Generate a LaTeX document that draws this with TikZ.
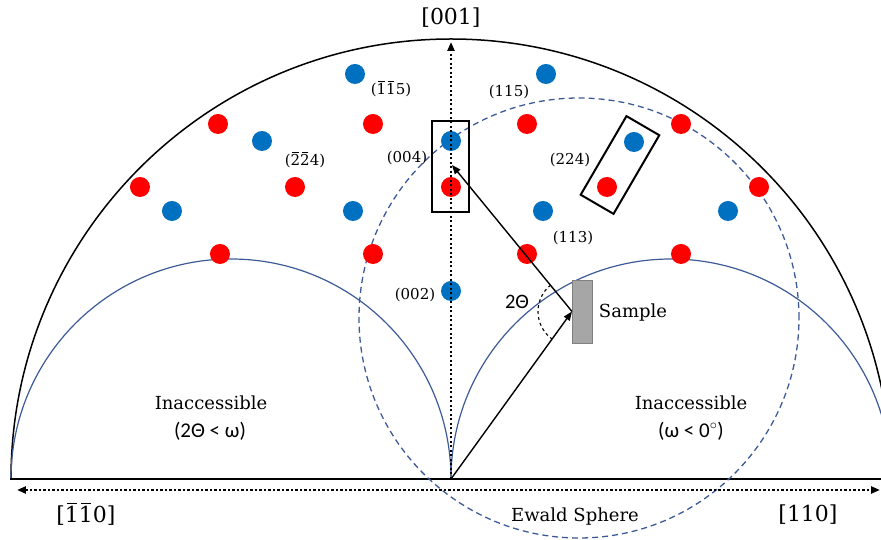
\documentclass[tikz,border=0pt]{standalone}
\usepackage{fontspec}
\setmainfont{DejaVu Serif}
\newfontfamily\calib{Carlito}
\usetikzlibrary{arrows.meta}

\definecolor{dotblue}{HTML}{0070C0}
\definecolor{dotred}{HTML}{FF0000}
\definecolor{arcblue}{HTML}{3D5A98}
\definecolor{samplegray}{HTML}{A6A6A6}

% digit with its own short bar on top
\newcommand{\nbar}[1]{\leavevmode\hbox{\ooalign{#1\cr\hfil\rule[0.84em]{0.44em}{0.055em}\hfil}}}

\tikzset{
  hkl/.style={font=\fontsize{15}{17}\selectfont, inner sep=0},
  axislabel/.style={font=\fontsize{22}{25}\selectfont, inner sep=0},
  region/.style={font=\fontsize{18}{21}\selectfont, inner sep=0},
  regioncond/.style={font=\calib\fontsize{21}{24}\selectfont, inner sep=0},
  dotline/.style={line width=2.2pt, dash pattern=on 2.2pt off 2.3pt},
  tip/.style={-{Triangle[length=9pt,width=7pt]}},
  selbox/.style={draw, line width=2pt, inner sep=0},
}

\begin{document}
\begin{tikzpicture}[x=1pt, y=1pt]
    \clip (-451,-61) rectangle (430,479);
    \coordinate (O) at (0,0);

    % half circle of reachable space and the two blind regions
    \draw[line width=1.5pt] (440,0) arc[start angle=0, end angle=180, radius=440];
    \draw[arcblue, line width=1.2pt] (0,0) arc[start angle=0, end angle=180, radius=220];
    \draw[arcblue, line width=1.2pt] (440,0) arc[start angle=0, end angle=180, radius=220];
    \draw[line width=1.5pt] (-441,0) -- (430,0);

    % Ewald sphere
    \draw[arcblue, line width=1.3pt, dash pattern=on 6pt off 4pt] (128,161) circle (220);

    % reciprocal lattice points
    \foreach \x/\y in {-96/405, 95/405, -189/338, 0/338, 183/337, -279/268,
                       -98/268, 92/268, 277/268, 0/188}
        \fill[dotblue] (\x,\y) circle (10);
    \foreach \x/\y in {-233/355, -78/355, 76/355, 230/355, -311/292, -156/292,
                       0/292, 156/292, 308/292, -231/225, -78/225, 76/225, 230/225}
        \fill[dotred] (\x,\y) circle (10);

    % crystal axes
    \coordinate (top) at (0,437);
    \coordinate (left) at (-434,-11);
    \coordinate (right) at (429,-11);
    \draw[dotline, tip] (O) -- (top);
    \draw[dotline, {Triangle[length=9pt,width=7pt]}-{Triangle[length=9pt,width=7pt]}] (left) -- (right);

    \node[axislabel] (n001) at (0,461) {[001]};
    \node[axislabel] (n110bar) at (-365,-37) {[\nbar{1}\nbar{1}0]};
    \node[axislabel] (n110) at (357,-36) {[110]};
    \node[region] (ewald) at (124,-38) {Ewald Sphere};

    % measured reflections
    \node[selbox, minimum width=37, minimum height=91] (box004) at (-0.5,312.5) {};
    \node[selbox, minimum width=91, minimum height=38, rotate=59.8] (box224) at (169,314) {};

    % sample and scattering geometry
    \node[draw=gray, fill=samplegray, line width=0.8pt, minimum width=20, minimum height=63,
          inner sep=0, anchor=west] (sample) at (121,167.5) {};
    \coordinate (T) at (1,314);
    \draw[line width=1.4pt, tip] (O) -- (sample.west);
    \draw[line width=1.4pt, tip] (sample.west) -- (T);
    \draw[line width=1.1pt, dashed] (sample.west) ++(128.8:34)
        arc[start angle=128.8, end angle=234, radius=34];
    \node[font=\calib\fontsize{20.5}{24}\selectfont, inner sep=0] (ang) at (66,177) {2Θ};
    \node[region] (samplelabel) at (182,166) {Sample};

    % Miller indices
    \node[hkl] (h115bar) at (-60,389) {(\nbar{1}\nbar{1}5)};
    \node[hkl] (h115) at (58,387) {(115)};
    \node[hkl] (h004) at (-44,321) {(004)};
    \node[hkl] (h224) at (119,319) {(224)};
    \node[hkl] (h224bar) at (-146,318) {(\nbar{2}\nbar{2}4)};
    \node[hkl] (h113) at (122,241) {(113)};
    \node[hkl] (h002) at (-36,184) {(002)};

    % blind regions
    \node[region] (inaccL) at (-240,76) {Inaccessible};
    \node[regioncond] (condL) at (-241,48) {(2Θ < ω)};
    \node[region] (inaccR) at (240,76) {Inaccessible};
    \node[regioncond] (condR) at (240,48) {(ω < 0$^{\circ}$)};
\end{tikzpicture}
\end{document}
